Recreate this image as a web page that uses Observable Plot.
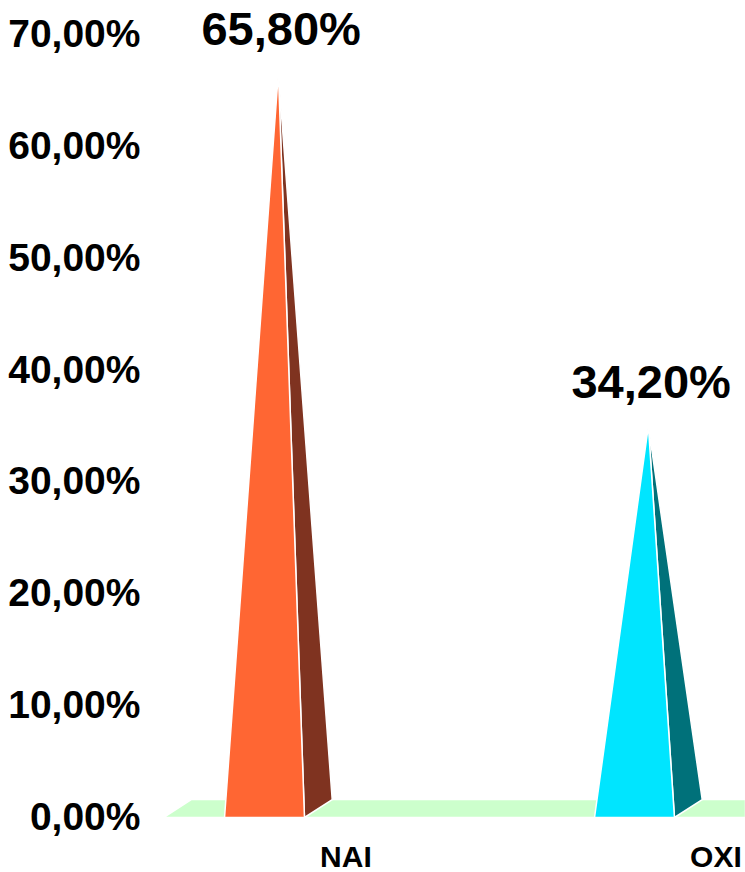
<!DOCTYPE html>
<html>
<head>
<meta charset="utf-8">
<script src="https://cdn.jsdelivr.net/npm/d3@7"></script>
<script src="https://cdn.jsdelivr.net/npm/@observablehq/plot@0.6"></script>
<style>
  html, body { margin: 0; padding: 0; background: #fff; }
  #chart { width: 745px; height: 872px; }
</style>
</head>
<body>
<div id="chart"></div>
<script>
// ---- data ----
const categories = ["NAI", "OXI"];
const values = [65.8, 34.2];
const yTicks = [0, 10, 20, 30, 40, 50, 60, 70];
const frontColors = ["#ff6633", "#00e5ff"];
const sideColors = ["#7f3320", "#00717a"];

// ---- geometry (in data units) ----
const halfW = 0.108;   // half width of pyramid base
const depthX = 0.075;  // depth offset in x
const depthY = 1.6;    // depth offset in y (%)
const xMin = -0.273, xMax = 1.3;

const floor = [
  {key: "floor", x: xMin, y: 0},
  {key: "floor", x: xMax, y: 0},
  {key: "floor", x: xMax, y: depthY},
  {key: "floor", x: xMin + depthX, y: depthY}
];

const faces = [];
categories.forEach((c, i) => {
  const v = values[i];
  const apex = {x: i + depthX / 2, y: v + depthY / 2};
  faces.push(
    {key: c + " side", x: i + halfW, y: 0},
    {key: c + " side", x: i + halfW + depthX, y: depthY},
    {key: c + " side", ...apex},
    {key: c + " front", x: i - halfW, y: 0},
    {key: c + " front", x: i + halfW, y: 0},
    {key: c + " front", ...apex}
  );
});

const colorDomain = ["floor"];
const colorRange = ["#ccffcc"];
categories.forEach((c, i) => {
  colorDomain.push(c + " side", c + " front");
  colorRange.push(sideColors[i], frontColors[i]);
});

const labels = categories.map((c, i) => ({c, i, v: values[i]}));
const fmt = d => d.toFixed(2).replace(".", ",") + "%";
const font = "'Liberation Sans', Arial, sans-serif";

const chart = Plot.plot({
  width: 745,
  height: 872,
  marginLeft: 163,
  marginRight: 0,
  marginTop: 34,
  marginBottom: 55,
  style: {fontFamily: font, fontSize: "39px", fontWeight: "bold", color: "#000", background: "#fff", overflow: "visible"},
  x: {domain: [xMin, xMax], axis: null},
  y: {domain: [0, 70], axis: null},
  color: {domain: colorDomain, range: colorRange},
  marks: [
    Plot.line(floor, {x: "x", y: "y", z: "key", fill: "key", stroke: "white", strokeWidth: 1.5, curve: "linear-closed"}),
    Plot.line(faces, {x: "x", y: "y", z: "key", fill: "key", stroke: "white", strokeWidth: 1.5, curve: "linear-closed"}),
    Plot.axisY({ticks: yTicks, tickFormat: fmt, tickSize: 0, tickPadding: 23, label: null,
      fontSize: 39, fontWeight: "bold", fill: "#000"}),
    Plot.text(labels, {x: d => d.i + 0.045, y: "v", text: d => fmt(d.v), dy: -52,
      fontSize: 47, fontWeight: "bold", fill: "#000", fontFamily: font}),
    Plot.text(labels, {x: d => d.i + 0.22, y: 0, text: "c", dy: 40,
      fontSize: 30, fontWeight: "bold", fill: "#000", fontFamily: font})
  ]
});
document.getElementById("chart").appendChild(chart);
</script>
</body>
</html>
